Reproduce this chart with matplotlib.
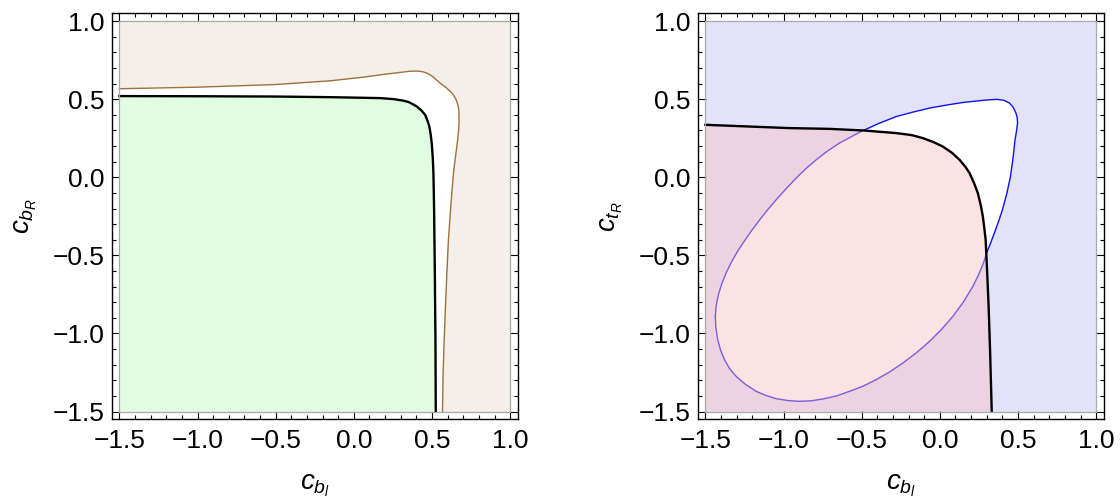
import matplotlib
matplotlib.use("Agg")
import matplotlib.pyplot as plt
from matplotlib.ticker import MultipleLocator, FuncFormatter

plt.rcParams['font.family'] = ['Liberation Sans', 'DejaVu Sans']
plt.rcParams['mathtext.fontset'] = 'custom'
plt.rcParams['mathtext.rm'] = 'Liberation Sans'
plt.rcParams['mathtext.it'] = 'Liberation Sans:italic'

# plot range of both region plots
x_range = [-1.5, 1.0]
y_range = [-1.5, 1.0]
major_step = 0.5
minor_step = 0.1

# left panel: boundary of the allowed region (black) and of the second constraint (brown)
left_black_x = [-1.5, -1.0, -0.5, -0.15, 0.17, 0.26, 0.32, 0.35, 0.37, 0.40, 0.43, 0.456, 0.472,
                0.483, 0.492, 0.499, 0.505, 0.509, 0.513, 0.518, 0.522, 0.524]
left_black_y = [0.520, 0.519, 0.517, 0.513, 0.507, 0.500, 0.490, 0.482, 0.472, 0.455, 0.43, 0.40,
                0.36, 0.325, 0.27, 0.21, 0.12, 0.027, -0.187, -0.613, -1.04, -1.5]
left_brown_x = [-1.5, -1.0, -0.5, -0.15, 0.06, 0.20, 0.30, 0.35, 0.38, 0.41, 0.44, 0.467, 0.49,
                0.51, 0.53, 0.552, 0.575, 0.595, 0.612, 0.627, 0.640, 0.650, 0.659, 0.665, 0.670,
                0.672, 0.673, 0.672, 0.670, 0.664, 0.657, 0.650, 0.637, 0.620, 0.605, 0.595,
                0.586, 0.578, 0.571, 0.567]
left_brown_y = [0.567, 0.577, 0.594, 0.618, 0.641, 0.660, 0.672, 0.678, 0.680, 0.680, 0.676, 0.667,
                0.655, 0.640, 0.622, 0.603, 0.586, 0.570, 0.555, 0.539, 0.522, 0.505, 0.485,
                0.464, 0.44, 0.42, 0.38, 0.34, 0.30, 0.24, 0.185, 0.13, 0.027, -0.187, -0.40,
                -0.613, -0.827, -1.04, -1.254, -1.5]

# right panel: black boundary and closed blue contour
right_black_x = [-1.5, -0.962, -0.706, -0.493, -0.279, -0.18, -0.109, -0.04, 0.019, 0.08, 0.126,
                 0.165, 0.190, 0.22, 0.243, 0.262, 0.275, 0.285, 0.293, 0.303, 0.312, 0.321, 0.332]
right_black_y = [0.336, 0.315, 0.310, 0.300, 0.283, 0.27, 0.251, 0.225, 0.197, 0.155, 0.112,
                 0.065, 0.027, -0.04, -0.101, -0.18, -0.251, -0.33, -0.40, -0.613, -0.827, -1.10, -1.5]
right_blue_x = [-1.436, -1.433, -1.421, -1.403, -1.378, -1.345, -1.303, -1.245, -1.175, -1.11,
                -1.047, -0.97, -0.898, -0.82, -0.749, -0.66, -0.578, -0.49, -0.407, -0.32,
                -0.237, -0.15, -0.066, 0.01, 0.083, 0.15, 0.211, 0.245, 0.275, 0.303, 0.325,
                0.344, 0.373, 0.40, 0.428, 0.451, 0.468, 0.481, 0.491, 0.497, 0.495, 0.487,
                0.47, 0.446, 0.41, 0.366, 0.30, 0.22, 0.147, 0.04, -0.066, -0.17, -0.279,
                -0.39, -0.50, -0.57, -0.642, -0.72, -0.791, -0.857, -0.919, -0.985, -1.047,
                -1.10, -1.152, -1.20, -1.245, -1.29, -1.33, -1.365, -1.395, -1.418, -1.432,
                -1.436]
right_blue_y = [-0.891, -0.96, -1.040, -1.105, -1.168, -1.225, -1.275, -1.325, -1.371, -1.398,
                -1.418, -1.43, -1.435, -1.431, -1.420, -1.40, -1.371, -1.337, -1.296, -1.246,
                -1.190, -1.124, -1.051, -0.975, -0.891, -0.800, -0.699, -0.630, -0.560, -0.475,
                -0.42, -0.37, -0.29, -0.21, -0.105, 0.0, 0.12, 0.240, 0.30, 0.347, 0.38, 0.411,
                0.447, 0.475, 0.493, 0.499, 0.495, 0.487, 0.479, 0.462, 0.443, 0.418, 0.389,
                0.345, 0.295, 0.258, 0.219, 0.167, 0.112, 0.055, -0.005, -0.075, -0.144,
                -0.206, -0.272, -0.336, -0.40, -0.468, -0.537, -0.608, -0.682, -0.757, -0.83,
                -0.891]


def fmt(v, pos):
    s = f"{v:.1f}"
    if s == "-0.0":
        s = "0.0"
    return s.replace("-", "\u2212")


def style_axes(ax, xlabel, ylabel):
    pad = 0.02 * (x_range[1] - x_range[0])
    ax.set_xlim(x_range[0] - pad, x_range[1] + pad)
    ax.set_ylim(y_range[0] - pad, y_range[1] + pad)
    for a in (ax.xaxis, ax.yaxis):
        a.set_major_locator(MultipleLocator(major_step))
        a.set_minor_locator(MultipleLocator(minor_step))
        a.set_major_formatter(FuncFormatter(fmt))
    ax.tick_params(which='both', direction='in', top=True, right=True, width=0.8,
                   labelsize=19)
    ax.tick_params(axis='x', pad=7)
    ax.tick_params(axis='y', pad=5)
    ax.tick_params(which='major', length=5.5)
    ax.tick_params(which='minor', length=3)
    for sp in ax.spines.values():
        sp.set_linewidth(1.0)
    ax.set_xlabel(xlabel, fontsize=20, labelpad=14)
    ax.set_ylabel(ylabel, fontsize=20, labelpad=10)
    # thin gray edge of the plotted region
    rx = [x_range[0], x_range[1], x_range[1], x_range[0], x_range[0]]
    ry = [y_range[0], y_range[0], y_range[1], y_range[1], y_range[0]]
    ax.plot(rx, ry, color='#a8a8a8', lw=0.9, zorder=6)


fig = plt.figure(figsize=(11.2, 4.99), dpi=100)
ax1 = fig.add_axes([0.0996, 0.1597, 0.3629, 0.8136])
ax2 = fig.add_axes([0.6228, 0.1597, 0.3629, 0.8136])

rect_x = [x_range[0], x_range[1], x_range[1], x_range[0]]
rect_y = [y_range[0], y_range[0], y_range[1], y_range[1]]

# left panel
ax1.fill(rect_x, rect_y, color='#f4efe9', lw=0, zorder=1)
ax1.fill(left_brown_x + [x_range[0]], left_brown_y + [y_range[0]], color='white', lw=0, zorder=2)
ax1.plot(left_brown_x, left_brown_y, color='#a0703c', lw=1.0, zorder=3)
ax1.fill(left_black_x + [x_range[0]], left_black_y + [y_range[0]], color='#e1fde1', lw=0, zorder=4)
ax1.plot(left_black_x, left_black_y, color='black', lw=1.7, zorder=5)
style_axes(ax1, r'$c_{b_l}$', r'$c_{b_R}$')

# right panel
ax2.fill(rect_x, rect_y, color='#e2e2fb', lw=0, zorder=1)
ax2.fill(right_blue_x, right_blue_y, color='white', lw=0, zorder=2)
ax2.plot(right_blue_x, right_blue_y, color='#1010f0', lw=1.0, zorder=3)
ax2.fill(right_black_x + [x_range[0]], right_black_y + [y_range[0]], color='#fbbfc3',
         alpha=0.45, lw=0, zorder=4)
ax2.plot(right_black_x, right_black_y, color='black', lw=1.7, zorder=5)
style_axes(ax2, r'$c_{b_l}$', r'$c_{t_R}$')

fig.savefig('out.png', dpi=100)
